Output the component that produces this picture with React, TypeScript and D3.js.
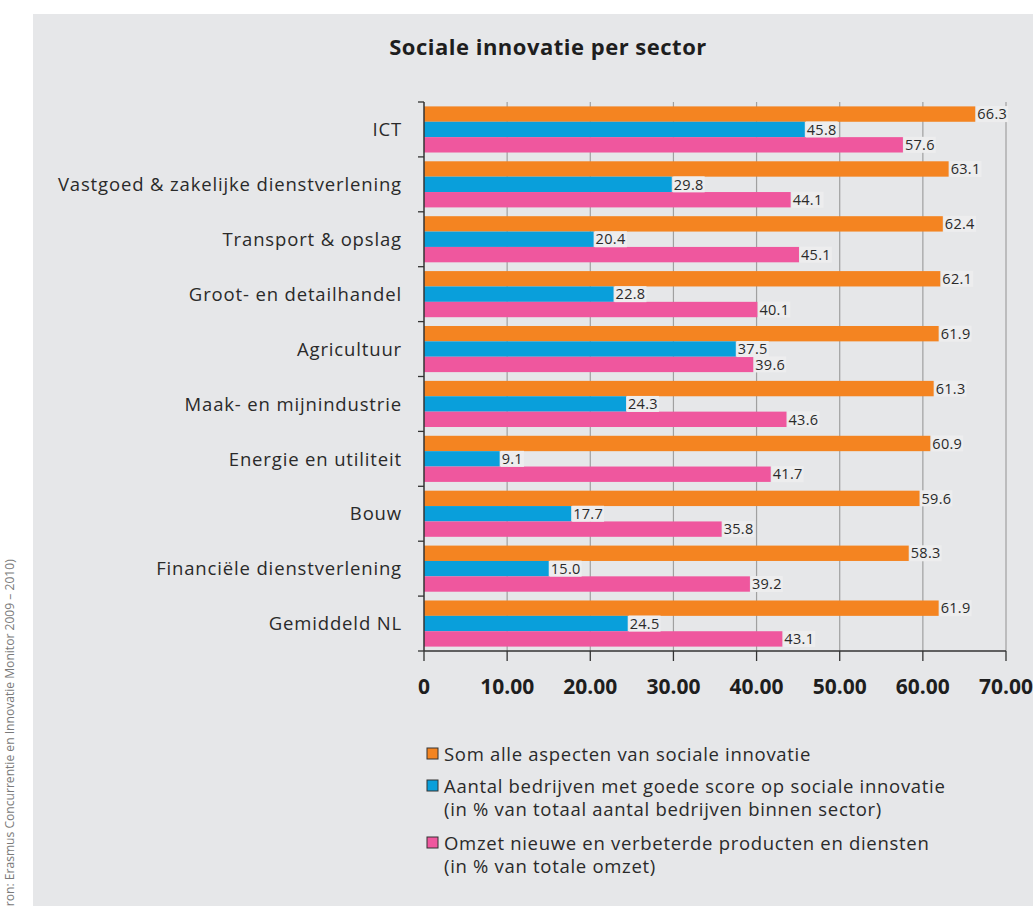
import React, { useEffect, useRef } from "react";
import * as d3 from "d3";

const categories = [
  "ICT",
  "Vastgoed & zakelijke dienstverlening",
  "Transport & opslag",
  "Groot- en detailhandel",
  "Agricultuur",
  "Maak- en mijnindustrie",
  "Energie en utiliteit",
  "Bouw",
  "Financiële dienstverlening",
  "Gemiddeld NL",
];
const somValues = [66.3, 63.1, 62.4, 62.1, 61.9, 61.3, 60.9, 59.6, 58.3, 61.9];
const aantalValues = [45.8, 29.8, 20.4, 22.8, 37.5, 24.3, 9.1, 17.7, 15.0, 24.5];
const omzetValues = [57.6, 44.1, 45.1, 40.1, 39.6, 43.6, 41.7, 35.8, 39.2, 43.1];
const xTicks = [0, 10, 20, 30, 40, 50, 60, 70];
const seriesKeys = ["som", "aantal", "omzet"];
const seriesColors = ["#f48421", "#099fdb", "#ef579e"];
const legendLines = [
  ["Som alle aspecten van sociale innovatie"],
  ["Aantal bedrijven met goede score op sociale innovatie", "(in % van totaal aantal bedrijven binnen sector)"],
  ["Omzet nieuwe en verbeterde producten en diensten", "(in % van totale omzet)"],
];
const title = "Sociale innovatie per sector";
const source = "Bron: Erasmus Concurrentie en Innovatie Monitor 2009 – 2010)";

export default function App() {
  const ref = useRef<SVGSVGElement>(null);

  useEffect(() => {
    const svg = d3.select(ref.current);
    svg.selectAll("*").remove();
    const W = 1033, H = 906;
    const font = "'Open Sans', 'Noto Sans', sans-serif";

    svg.append("rect").attr("x", 0).attr("y", 0).attr("width", W).attr("height", H).attr("fill", "#ffffff");
    svg.append("rect").attr("x", 33).attr("y", 14).attr("width", W - 33).attr("height", H - 14).attr("fill", "#e6e7e9");

    // source text
    svg.append("text")
      .attr("transform", "translate(14,914) rotate(-90)")
      .attr("font-family", font)
      .attr("font-size", 12.1)
      .attr("fill", "#7a7a7a")
      .text(source);

    // title
    svg.append("text")
      .attr("x", 548).attr("y", 55)
      .attr("text-anchor", "middle")
      .attr("font-family", font)
      .attr("font-size", 22)
      .attr("font-weight", 700)
      .attr("letter-spacing", 0.5)
      .attr("fill", "#1e1e1e")
      .text(title);

    const left = 424, right = 1006, top = 102, bottom = 651;
    const x = d3.scaleLinear().domain([0, 70]).range([left, right]);
    const y = d3.scaleBand<string>().domain(categories).range([top, bottom]).paddingInner(0.16).paddingOuter(0.08);
    const sub = d3.scaleBand<string>().domain(seriesKeys).range([0, y.bandwidth()]);

    const g = svg.append("g");

    // gridlines
    g.selectAll("line.grid")
      .data(xTicks.filter((t) => t > 0))
      .enter().append("line")
      .attr("x1", (d) => x(d)).attr("x2", (d) => x(d))
      .attr("y1", top).attr("y2", bottom)
      .attr("stroke", "#a0a0a0").attr("stroke-width", 1.2);

    const seriesData = [somValues, aantalValues, omzetValues];
    seriesData.forEach((vals, si) => {
      const key = seriesKeys[si];
      const bars = g.append("g");
      bars.selectAll("rect")
        .data(vals)
        .enter().append("rect")
        .attr("x", x(0))
        .attr("y", (_d, i) => (y(categories[i]) as number) + (sub(key) as number))
        .attr("width", (d) => x(d) - x(0))
        .attr("height", sub.bandwidth())
        .attr("fill", seriesColors[si]);
    });

    // value labels
    seriesData.forEach((vals, si) => {
      const key = seriesKeys[si];
      vals.forEach((v, i) => {
        const yy = (y(categories[i]) as number) + (sub(key) as number) + sub.bandwidth() / 2;
        const label = v.toFixed(1);
        const lg = g.append("g");
        const t = lg.append("text")
          .attr("x", x(v) + 2)
          .attr("y", yy)
          .attr("dy", "0.36em")
          .attr("font-family", font)
          .attr("font-size", 14.5)
          .attr("letter-spacing", 0.3)
          .attr("fill", "#2a2a2a")
          .text(label);
        const node = t.node() as SVGTextElement;
        const bb = node.getBBox();
        lg.insert("rect", "text")
          .attr("x", bb.x - 1).attr("y", yy - 8)
          .attr("width", bb.width + 2).attr("height", 16)
          .attr("fill", "#ededee");
      });
    });

    // y axis
    const yAxisG = svg.append("g");
    yAxisG.append("line").attr("x1", left).attr("x2", left).attr("y1", top).attr("y2", bottom)
      .attr("stroke", "#333").attr("stroke-width", 1.5);
    const boundaries = d3.range(categories.length + 1).map((i) => top + (i * (bottom - top)) / categories.length);
    yAxisG.selectAll("line.tk").data(boundaries).enter().append("line")
      .attr("x1", left - 6).attr("x2", left).attr("y1", (d) => d).attr("y2", (d) => d)
      .attr("stroke", "#333").attr("stroke-width", 1.3);
    yAxisG.selectAll("text").data(categories).enter().append("text")
      .attr("x", 402)
      .attr("y", (d) => (y(d) as number) + y.bandwidth() / 2)
      .attr("dy", "0.36em")
      .attr("text-anchor", "end")
      .attr("font-family", font)
      .attr("font-size", 18.5)
      .attr("letter-spacing", 0.85)
      .attr("fill", "#2a2a2a")
      .text((d) => d);

    // x axis
    const xAxisG = svg.append("g");
    xAxisG.append("line").attr("x1", left).attr("x2", right).attr("y1", bottom).attr("y2", bottom)
      .attr("stroke", "#333").attr("stroke-width", 1.5);
    xAxisG.selectAll("line.tk").data(xTicks).enter().append("line")
      .attr("x1", (d) => x(d)).attr("x2", (d) => x(d)).attr("y1", bottom).attr("y2", bottom + 10)
      .attr("stroke", "#333").attr("stroke-width", 1.3);
    xAxisG.selectAll("text").data(xTicks).enter().append("text")
      .attr("x", (d) => x(d))
      .attr("y", 694)
      .attr("text-anchor", "middle")
      .attr("font-family", font)
      .attr("font-size", 21)
      .attr("font-weight", 700)
      .attr("fill", "#1e1e1e")
      .text((d) => (d === 0 ? "0" : d.toFixed(2)));

    // legend
    const legendY = [754, 786, 843];
    legendLines.forEach((lines, li) => {
      const ly = legendY[li];
      svg.append("rect")
        .attr("x", 427).attr("y", ly - 6).attr("width", 11).attr("height", 11)
        .attr("fill", seriesColors[li]).attr("stroke", "#333").attr("stroke-width", 1);
      lines.forEach((ln, k) => {
        svg.append("text")
          .attr("x", 444).attr("y", ly + k * 23)
          .attr("dy", "0.36em")
          .attr("font-family", font)
          .attr("font-size", 18.5)
          .attr("letter-spacing", 0.7)
          .attr("fill", "#2a2a2a")
          .text(ln);
      });
    });
  }, []);

  return (
    <div style={{ position: "absolute", left: 0, top: 0 }}>
      <svg ref={ref} width={1033} height={906} style={{ display: "block" }} />
    </div>
  );
}
